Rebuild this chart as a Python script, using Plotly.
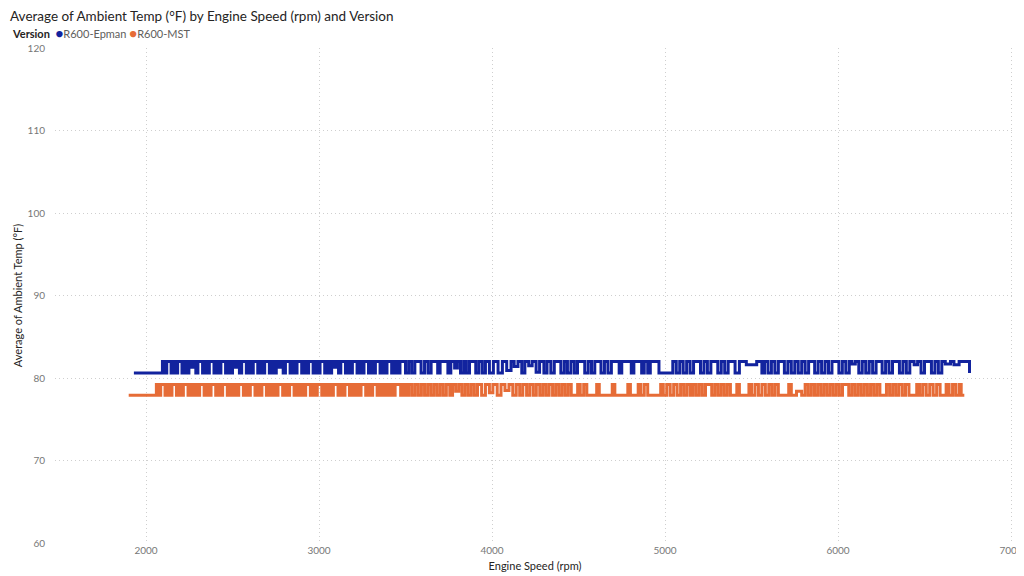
import plotly.graph_objects as go

# ---------------- data ----------------
rpm_epman = [
    1930, 2080,
    2095, 2108, 2120, 2132, 2145, 2158, 2170, 2183, 2196, 2208,
    2222, 2235, 2248, 2262, 2275, 2288, 2300, 2314, 2327, 2340,
    2353, 2366, 2380, 2393, 2406, 2420, 2433, 2446, 2460, 2473,
    2486, 2500, 2513, 2526, 2540, 2553, 2566, 2580, 2593, 2606,
    2620, 2633, 2646, 2660, 2673, 2686, 2700, 2713, 2726, 2740,
    2753, 2766, 2780, 2793, 2806, 2820, 2833, 2846, 2860, 2873,
    2886, 2900, 2913, 2926, 2940, 2953, 2966, 2980, 2993, 3006,
    3020, 3033, 3046, 3060, 3073, 3086, 3100, 3113, 3126, 3140,
    3153, 3166, 3180, 3193, 3206, 3220, 3233, 3246, 3260, 3273,
    3286, 3300, 3313, 3326, 3340, 3353, 3366, 3380, 3393, 3406,
    3420, 3436, 3452, 3468, 3484, 3500, 3518, 3536, 3554, 3572,
    3590, 3610, 3630, 3648, 3670, 3686, 3700, 3730, 3745, 3762,
    3784, 3800, 3818, 3836, 3852, 3870, 3890, 3906, 3924, 3944,
    3962, 3985, 4008, 4035, 4060, 4085, 4110, 4128, 4150, 4172,
    4190, 4212, 4232, 4255, 4275, 4300, 4318, 4340, 4360, 4380,
    4398, 4418, 4436, 4456, 4476, 4494, 4520, 4536, 4556, 4575,
    4594, 4614, 4630, 4650, 4670, 4690, 4720, 4735, 4750, 4790,
    4805, 4820, 4850, 4865, 4880, 4900, 4915, 4935, 4965, 5030,
    5045, 5065, 5085, 5105, 5125, 5145, 5165, 5185, 5205, 5225,
    5245, 5265, 5285, 5305, 5325, 5345, 5365, 5385, 5405, 5430,
    5470, 5530, 5560, 5575, 5595, 5615, 5635, 5655, 5675, 5690,
    5710, 5730, 5750, 5770, 5790, 5810, 5830, 5850, 5865, 5885,
    5905, 5925, 5945, 5965, 5990, 6005, 6025, 6045, 6065, 6080,
    6100, 6120, 6140, 6160, 6180, 6200, 6220, 6240, 6255, 6275,
    6295, 6315, 6340, 6355, 6375, 6395, 6415, 6440, 6460, 6480,
    6500, 6525, 6540, 6560, 6580, 6600, 6620, 6650, 6670, 6700,
    6720, 6760,
]
temp_epman = [
    80.6, 80.6,
    82.0, 80.6, 82.0, 82.0, 80.6, 82.0, 80.6, 82.0, 82.0, 80.6,
    82.0, 80.6, 82.0, 81.3, 82.0, 80.6, 82.0, 82.0, 80.6, 82.0,
    80.6, 82.0, 82.0, 80.6, 82.0, 80.6, 82.0, 82.0, 80.6, 82.0,
    80.6, 82.0, 81.3, 82.0, 80.6, 82.0, 82.0, 80.6, 82.0, 80.6,
    82.0, 82.0, 80.6, 82.0, 80.6, 82.0, 82.0, 80.6, 82.0, 80.6,
    82.0, 81.3, 82.0, 80.6, 82.0, 82.0, 80.6, 82.0, 80.6, 82.0,
    82.0, 80.6, 82.0, 80.6, 82.0, 82.0, 80.6, 82.0, 80.6, 82.0,
    82.0, 80.6, 82.0, 80.6, 82.0, 81.3, 82.0, 80.6, 82.0, 82.0,
    80.6, 82.0, 80.6, 82.0, 82.0, 80.6, 82.0, 80.6, 82.0, 82.0,
    80.6, 82.0, 80.6, 82.0, 82.0, 80.6, 82.0, 80.6, 82.0, 82.0,
    80.6, 82.0, 80.6, 82.0, 82.0, 80.6, 82.0, 80.6, 82.0, 82.0,
    80.6, 82.0, 80.6, 82.0, 82.0, 80.6, 82.0, 82.0, 80.6, 82.0,
    81.2, 82.0, 80.6, 82.0, 80.6, 82.0, 82.0, 80.6, 82.0, 80.6,
    82.0, 80.6, 82.0, 80.6, 82.0, 80.9, 82.0, 81.4, 82.0, 80.6,
    82.0, 81.5, 82.0, 80.7, 82.0, 80.6, 82.0, 80.6, 82.0, 82.0,
    80.6, 82.0, 80.6, 82.0, 80.6, 82.0, 82.0, 80.6, 82.0, 80.6,
    82.0, 82.0, 80.6, 82.0, 80.6, 82.0, 82.0, 80.6, 82.0, 82.0,
    80.6, 82.0, 82.0, 80.6, 82.0, 80.6, 82.0, 82.0, 80.6, 80.6,
    82.0, 80.6, 82.0, 80.6, 82.0, 80.6, 82.0, 82.0, 80.6, 82.0,
    80.6, 82.0, 82.0, 80.6, 82.0, 80.6, 82.0, 82.0, 80.6, 82.0,
    81.6, 82.0, 80.6, 82.0, 80.6, 82.0, 80.6, 82.0, 82.0, 80.6,
    82.0, 80.6, 82.0, 80.6, 82.0, 80.6, 82.0, 82.0, 80.6, 82.0,
    80.6, 82.0, 80.6, 82.0, 82.0, 80.6, 82.0, 80.6, 82.0, 81.7,
    82.0, 80.6, 82.0, 80.6, 82.0, 80.6, 82.0, 82.0, 80.6, 82.0,
    80.6, 82.0, 82.0, 80.6, 82.0, 80.6, 82.0, 81.6, 82.0, 80.6,
    82.0, 82.0, 80.6, 82.0, 80.6, 82.0, 81.7, 82.0, 81.6, 82.0,
    82.0, 80.6,
]

rpm_mst = [
    1900, 2050,
    2060, 2072, 2085, 2098, 2110, 2123, 2136, 2150, 2163, 2176,
    2190, 2203, 2216, 2230, 2243, 2256, 2270, 2283, 2296, 2310,
    2323, 2336, 2350, 2363, 2376, 2390, 2403, 2416, 2430, 2443,
    2456, 2470, 2483, 2496, 2510, 2523, 2536, 2550, 2563, 2576,
    2590, 2603, 2616, 2630, 2643, 2656, 2670, 2683, 2696, 2710,
    2723, 2736, 2750, 2763, 2776, 2790, 2803, 2816, 2830, 2843,
    2856, 2870, 2883, 2896, 2910, 2923, 2936, 2950, 2963, 2976,
    2990, 3003, 3016, 3030, 3043, 3056, 3070, 3083, 3096, 3110,
    3123, 3136, 3150, 3163, 3176, 3190, 3203, 3216, 3230, 3243,
    3256, 3270, 3283, 3296, 3310, 3323, 3336, 3350, 3363, 3376,
    3392, 3408, 3424, 3440, 3456, 3472, 3488, 3504, 3520, 3538,
    3556, 3574, 3592, 3610, 3628, 3646, 3664, 3682, 3700, 3718,
    3736, 3756, 3772, 3790, 3808, 3826, 3844, 3862, 3880, 3898,
    3916, 3940, 3962, 3985, 4005, 4030, 4052, 4075, 4098, 4120,
    4140, 4160, 4178, 4200, 4218, 4238, 4256, 4276, 4294, 4312,
    4330, 4350, 4368, 4386, 4404, 4422, 4440, 4458, 4478, 4495,
    4510, 4530, 4548, 4590, 4605, 4620, 4680, 4695, 4710, 4770,
    4785, 4800, 4830, 4845, 4860, 4880, 4900, 4960, 4975, 4990,
    5010, 5030, 5050, 5070, 5090, 5108, 5126, 5145, 5162, 5180,
    5198, 5216, 5234, 5252, 5270, 5288, 5306, 5324, 5342, 5360,
    5378, 5400, 5415, 5430, 5470, 5485, 5500, 5520, 5540, 5560,
    5580, 5600, 5618, 5636, 5655, 5700, 5715, 5730, 5760, 5790,
    5810, 5828, 5846, 5864, 5882, 5900, 5918, 5936, 5954, 5972,
    5990, 6008, 6026, 6044, 6062, 6080, 6098, 6116, 6134, 6152,
    6170, 6188, 6206, 6224, 6242, 6262, 6280, 6298, 6316, 6334,
    6352, 6372, 6390, 6410, 6440, 6455, 6472, 6490, 6510, 6530,
    6550, 6570, 6590, 6610, 6625, 6642, 6662, 6680, 6700, 6712,
    6730,
]
temp_mst = [
    77.9, 77.9,
    79.2, 77.9, 79.2, 79.2, 77.9, 79.2, 77.9, 79.2, 79.2, 77.9,
    79.2, 77.9, 79.2, 79.2, 77.9, 79.2, 77.9, 79.2, 77.9, 79.2,
    79.2, 77.9, 79.2, 77.9, 79.2, 79.2, 77.9, 79.2, 77.9, 79.2,
    79.2, 77.9, 79.2, 77.9, 79.2, 77.9, 79.2, 79.2, 77.9, 79.2,
    77.9, 79.2, 79.2, 77.9, 79.2, 77.9, 79.2, 79.2, 77.9, 79.2,
    77.9, 79.2, 77.9, 79.2, 79.2, 77.9, 79.2, 77.9, 79.2, 79.2,
    77.9, 79.2, 77.9, 79.2, 77.9, 79.2, 79.2, 77.9, 79.2, 77.9,
    79.2, 79.2, 77.9, 79.2, 77.9, 79.2, 77.9, 79.2, 79.2, 77.9,
    79.2, 77.9, 79.2, 79.2, 77.9, 79.2, 77.9, 79.2, 77.9, 79.2,
    79.2, 77.9, 79.2, 77.9, 79.2, 79.2, 77.9, 79.2, 77.9, 79.2,
    77.9, 79.2, 77.9, 79.2, 79.2, 77.9, 79.2, 77.9, 79.2, 77.9,
    79.2, 77.9, 79.2, 77.9, 79.2, 77.9, 79.2, 77.9, 79.2, 77.9,
    79.2, 77.9, 79.2, 78.4, 79.2, 77.9, 79.2, 77.9, 79.2, 77.9,
    79.2, 77.9, 79.2, 78.2, 79.2, 77.9, 79.2, 78.5, 79.2, 77.9,
    79.2, 77.9, 79.2, 77.9, 79.2, 77.9, 79.2, 77.9, 79.2, 77.9,
    79.2, 77.9, 79.2, 77.9, 79.2, 77.9, 79.2, 77.9, 77.9, 79.2,
    77.9, 79.2, 77.9, 77.9, 79.2, 77.9, 77.9, 79.2, 77.9, 77.9,
    79.2, 77.9, 77.9, 79.2, 77.9, 79.2, 77.9, 77.9, 79.2, 77.9,
    79.2, 77.9, 79.2, 77.9, 79.2, 77.9, 79.2, 77.9, 79.2, 77.9,
    79.2, 77.9, 79.2, 79.2, 77.9, 79.2, 77.9, 79.2, 77.9, 79.2,
    77.9, 77.9, 79.2, 77.9, 77.9, 79.2, 77.9, 79.2, 77.9, 79.2,
    77.9, 79.2, 77.9, 79.2, 77.9, 77.9, 79.2, 77.9, 78.4, 77.9,
    79.2, 77.9, 79.2, 77.9, 79.2, 77.9, 79.2, 77.9, 79.2, 77.9,
    79.2, 77.9, 79.2, 79.2, 77.9, 79.2, 77.9, 79.2, 77.9, 79.2,
    77.9, 79.2, 77.9, 79.2, 77.9, 77.9, 79.2, 77.9, 79.2, 77.9,
    79.2, 77.9, 79.2, 77.9, 77.9, 79.2, 77.9, 79.2, 77.9, 79.2,
    77.9, 79.2, 77.9, 77.9, 79.2, 77.9, 79.2, 77.9, 79.2, 77.9,
    77.9,
]

series_names = ["R600-Epman", "R600-MST"]
series_colors = ["#12239E", "#E66C37"]
y_ticks = [60, 70, 80, 90, 100, 110, 120]
x_ticks = [2000, 3000, 4000, 5000, 6000, 7000]

TITLE = "Average of Ambient Temp (°F) by Engine Speed (rpm) and Version"
FONT = "Segoe UI, Lato, Noto Sans, sans-serif"

fig = go.Figure()
for name, color, xs, ys in [
    (series_names[0], series_colors[0], rpm_epman, temp_epman),
    (series_names[1], series_colors[1], rpm_mst, temp_mst),
]:
    fig.add_trace(go.Scatter(
        x=xs, y=ys, mode="lines", name=name,
        line=dict(color=color, width=3, shape="hv"), showlegend=False,
    ))

# legend row: "Version  ● R600-Epman ● R600-MST"
legend_text = "<b>Version</b>  " + " ".join(
    f"<span style='color:{c};font-size:13px'>●</span><span style='color:#605E5C'>{n}</span>"
    for n, c in zip(series_names, series_colors)
)
fig.add_annotation(
    text=legend_text, xref="paper", yref="paper", x=-0.047, y=1.0,
    xanchor="left", yanchor="middle", yshift=15, showarrow=False,
    font=dict(size=11, color="#252423", family=FONT),
)

grid = dict(showgrid=True, gridcolor="#cfcfcf", griddash="1px,3px", gridwidth=1,
            zeroline=False, showline=False, ticks="")

# the page adds an 8px body margin, so the figure is 8px smaller than the window
fig.update_layout(
    width=1016, height=568,
    paper_bgcolor="white", plot_bgcolor="white",
    font=dict(family=FONT, color="#252423"),
    showlegend=False,
    margin=dict(l=47, r=9, t=40, b=33, autoexpand=False),
    title=dict(text=TITLE, x=2 / 1016, xanchor="left", y=1 - 4 / 568, yanchor="top",
               yref="container", pad=dict(t=0, b=0, l=0, r=0),
               font=dict(size=13.5, color="#252423", family=FONT)),
    xaxis=dict(
        range=[1474, 7023], tickvals=x_ticks, ticktext=[str(v) for v in x_ticks],
        tickfont=dict(size=10, color="#777777"),
        title=dict(text="Engine Speed (rpm)", font=dict(size=11, color="#252423"), standoff=7),
        **grid,
    ),
    yaxis=dict(
        range=[60, 120], tickvals=y_ticks, ticktext=[str(v) for v in y_ticks],
        tickfont=dict(size=10, color="#777777"), ticklabelstandoff=9,
        title=dict(text="Average of Ambient Temp (°F)", font=dict(size=11, color="#252423"), standoff=2),
        **grid,
    ),
)

fig.write_html("out.html")
